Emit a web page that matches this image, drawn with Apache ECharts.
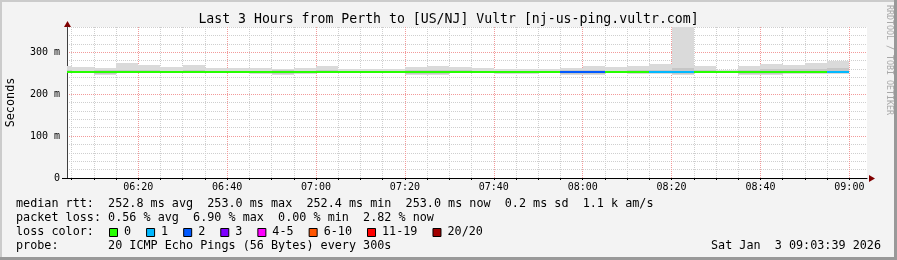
<!DOCTYPE html>
<html><head><meta charset="utf-8">
<script src="https://cdn.jsdelivr.net/npm/echarts@6/dist/echarts.min.js"></script>
<style>html,body{margin:0;padding:0;background:#f3f3f3}#c{width:897px;height:260px}</style>
</head><body><div id="c"></div>
<script>
// ---- data (5-minute intervals, start times) ----
const intervalStart = ['06:00','06:05','06:10','06:15','06:20','06:25','06:30','06:35','06:40','06:45','06:50','06:55',
  '07:00','07:05','07:10','07:15','07:20','07:25','07:30','07:35','07:40','07:45','07:50','07:55',
  '08:00','08:05','08:10','08:15','08:20','08:25','08:30','08:35','08:40','08:45','08:50','08:55'];
// smoke: min, inner low, inner high, max ping (ms)
const pingMin  = [250,250,245,250,250,251,250,251,251,249,246,249,251,250,250,250,246,246,250,250,248,249,250,246,246,250,249,248,246,250,250,246,246,248,248,248];
const pingLowQ = [251.5,251.5,248,251.5,251.5,252,251.5,252,252,251,249,251,252,251.5,251.5,251.5,249,249,251.5,251.5,250,251,251.5,249,249,251.5,251,250,249,251.5,251.5,249,249,250,250,250];
const pingHighQ= [257,256,258,257,257,256,257,256,256,256,257,256,257,256,256,255,258,258,257,256,256,256,255,257,258,256,257,258,262,257,255,258,259,259,260,262];
const pingMax  = [267,264,262,274,269,265,270,263,263,262,261,263,267,261,261,259,264,267,265,262,261,261,259,262,267,264,267,271,420,267,258,268,271,269,274,279];
const medianRtt= [252.8,252.8,252.7,252.9,252.8,252.8,252.9,252.8,252.8,252.7,252.6,252.8,252.9,252.8,252.8,252.8,252.6,252.7,252.8,252.8,252.7,252.8,252.8,252.4,252.5,252.8,252.8,252.7,252.6,252.9,252.9,252.7,252.7,252.8,252.9,253.0];
const lossCount= [0,0,0,0,0,0,0,0,0,0,0,0,0,0,0,0,0,0,0,0,0,0,0,2,2,0,0,1,1,0,0,0,0,0,0,1];
const tickLabels = ['06:20','06:40','07:00','07:20','07:40','08:00','08:20','08:40','09:00'];
const lossLabels = ['0','1','2','3','4-5','6-10','11-19','20/20'];
const lossColors = ['#26ff00','#00b8ff','#0059ff','#7e00ff','#ff00ff','#ff5500','#ff0000','#a10000'];
const lossLevelOf = n => n===0?0:n===1?1:n===2?2:n===3?3:n<=5?4:n<=10?5:n<20?6:7;
const titleText = 'Last 3 Hours from Perth to [US/NJ] Vultr [nj-us-ping.vultr.com]';
const statLines = [
  'median rtt:  252.8 ms avg  253.0 ms max  252.4 ms min  253.0 ms now  0.2 ms sd  1.1 k am/s',
  'packet loss: 0.56 % avg  6.90 % max  0.00 % min  2.82 % now'
];
const probeText = 'probe:       20 ICMP Echo Pings (56 Bytes) every 300s';
const dateText = 'Sat Jan  3 09:03:39 2026';
const STEP = 5;

// ---- helpers ----
const toMin = s => { const [h,m] = s.split(':').map(Number); return h*60+m; };
const fmt = v => { const h = Math.floor(v/60), m = Math.round(v%60); return String(h).padStart(2,'0')+':'+String(m).padStart(2,'0'); };
const X_MIN = 363 + 58/60, X_MAX = X_MIN + 180;
const starts = intervalStart.map(toMin);
const smokeData = starts.map((s,i)=>[s, s+STEP, pingMin[i], pingLowQ[i], pingHighQ[i], pingMax[i]]);
const medData = starts.map((s,i)=>[s, s+STEP, medianRtt[i], lossCount[i]]);
const ticks5 = []; for (let t = Math.ceil(X_MIN/5)*5; t <= X_MAX; t += 5) ticks5.push(t);
const labelVals = tickLabels.map(toMin);

const MONO = 'DejaVu Sans Mono';
const MIN_C = '#cfcfcf', MAJ_C = '#f29a9a';

function clipRect(r, cs){
  return echarts.graphic.clipRectByRect(r, {x:cs.x, y:cs.y, width:cs.width, height:cs.height});
}
function renderSmoke(params, api){
  const x0 = api.value(0), x1 = api.value(1);
  const cs = params.coordSys;
  const mk = (a, b, fill) => {
    const p0 = api.coord([x0, b]), p1 = api.coord([x1, a]);
    const l = Math.round(p0[0]), r = Math.round(p1[0]);
    const t = Math.round(p0[1]), bt = Math.round(p1[1]);
    const rc = clipRect({x:l, y:t, width:r-l, height:bt-t}, cs);
    return rc ? {type:'rect', shape:rc, style:{fill}} : null;
  };
  return {type:'group', children:[mk(api.value(2), api.value(5), '#dadada'), mk(api.value(3), api.value(4), '#c6c6c6')].filter(Boolean)};
}
function renderMedian(params, api){
  const p0 = api.coord([api.value(0), api.value(2)]), p1 = api.coord([api.value(1), api.value(2)]);
  const y = Math.round(p0[1]);
  const l = Math.round(p0[0]), r = Math.round(p1[0]);
  const rc = clipRect({x:l, y:y-1, width:r-l, height:2}, params.coordSys);
  return rc ? {type:'rect', shape:rc, style:{fill: lossColors[lossLevelOf(api.value(3))]}} : null;
}

// ---- legend graphics ----
const FS = 11.78, CW = FS*0.6021;
const graphics = [];
graphics.push({type:'text', left:'center', top:13, style:{text:titleText, font:`13.2px "${MONO}"`, fill:'#000'}});
statLines.forEach((t,i)=>graphics.push({type:'text', x:16, y:204.3+14*i, style:{text:t, font:`${FS}px "${MONO}"`, fill:'#000', verticalAlign:'middle'}}));
graphics.push({type:'text', x:16, y:232.3, style:{text:'loss color:', font:`${FS}px "${MONO}"`, fill:'#000', verticalAlign:'middle'}});
let bx = 109;
lossLabels.forEach((lab,i)=>{
  graphics.push({type:'rect', shape:{x:bx+0.5, y:228.5, width:8, height:8}, style:{fill:lossColors[i], stroke:'#000', lineWidth:1}});
  graphics.push({type:'text', x:bx+15, y:232.3, style:{text:lab, font:`${FS}px "${MONO}"`, fill:'#000', verticalAlign:'middle'}});
  bx += 30 + CW*lab.length;
});
graphics.push({type:'text', x:16, y:246.3, style:{text:probeText, font:`${FS}px "${MONO}"`, fill:'#000', verticalAlign:'middle'}});
graphics.push({type:'text', x:711, y:246.3, style:{text:dateText, font:`${FS}px "${MONO}"`, fill:'#000', verticalAlign:'middle'}});
graphics.push({type:'text', x:893, y:5, rotation:-Math.PI/2, style:{text:'RRDTOOL / TOBI OETIKER', font:`8.3px "${MONO}"`, fill:'#a8a8a8', verticalAlign:'top', align:'left'}});
// axis arrows and axis extensions
graphics.push({type:'line', shape:{x1:62, y1:178.5, x2:67, y2:178.5}, style:{stroke:'#000', lineWidth:1}});
graphics.push({type:'polygon', shape:{points:[[869,175],[875,178.5],[869,182]]}, style:{fill:'#800000'}});
graphics.push({type:'polygon', shape:{points:[[64,27],[67.5,21],[71,27]]}, style:{fill:'#800000'}});
// frame
graphics.push({type:'rect', shape:{x:0,y:0,width:897,height:2}, style:{fill:'#cbcbcb'}});
graphics.push({type:'rect', shape:{x:0,y:0,width:2,height:260}, style:{fill:'#cbcbcb'}});
graphics.push({type:'rect', shape:{x:894,y:0,width:3,height:260}, style:{fill:'#999999'}});
graphics.push({type:'rect', shape:{x:0,y:257,width:897,height:3}, style:{fill:'#999999'}});

const chart = echarts.init(document.getElementById('c'), null, {renderer:'canvas'});
chart.setOption({
  animation:false,
  backgroundColor:'#f3f3f3',
  grid:{left:67, right:30, top:27, bottom:82, show:true, backgroundColor:'#ffffff', borderWidth:0, containLabel:false, outerBoundsMode:'none'},
  xAxis:{
    type:'value', min:X_MIN, max:X_MAX,
    axisLine:{show:true, onZero:false, lineStyle:{color:'#000', width:1}},
    axisTick:{show:true, customValues:ticks5, length:2, lineStyle:{color:'#000'}},
    axisLabel:{customValues:labelVals, formatter:v=>fmt(v), fontFamily:MONO, fontSize:10, color:'#000', margin:4},
    splitLine:{show:true, lineStyle:{color:[MIN_C,MIN_C,MIN_C,MAJ_C], type:[1,1], width:1}}
  },
  yAxis:{
    type:'value', min:0, max:360, interval:20,
    axisLine:{show:true, lineStyle:{color:'#404040', width:1}},
    axisTick:{show:false},
    axisLabel:{formatter:v=> v%100===0 ? (v===0?'0':v+' m') : '', fontFamily:MONO, fontSize:10, color:'#000', margin:7, showMaxLabel:false},
    splitLine:{show:true, lineStyle:{color:[MAJ_C,MIN_C,MIN_C,MIN_C,MIN_C], type:[1,1], width:1}},
    name:'Seconds', nameLocation:'middle', nameGap:50, nameRotate:90,
    nameTextStyle:{fontFamily:MONO, fontSize:FS, color:'#000'}
  },
  series:[
    {type:'custom', name:'smoke', renderItem:renderSmoke, data:smokeData, encode:{x:[0,1], y:[2,5]}, silent:true, z:2},
    {type:'custom', name:'median', renderItem:renderMedian, data:medData, encode:{x:[0,1], y:2}, silent:true, z:3}
  ],
  graphic:graphics
});
</script></body></html>
